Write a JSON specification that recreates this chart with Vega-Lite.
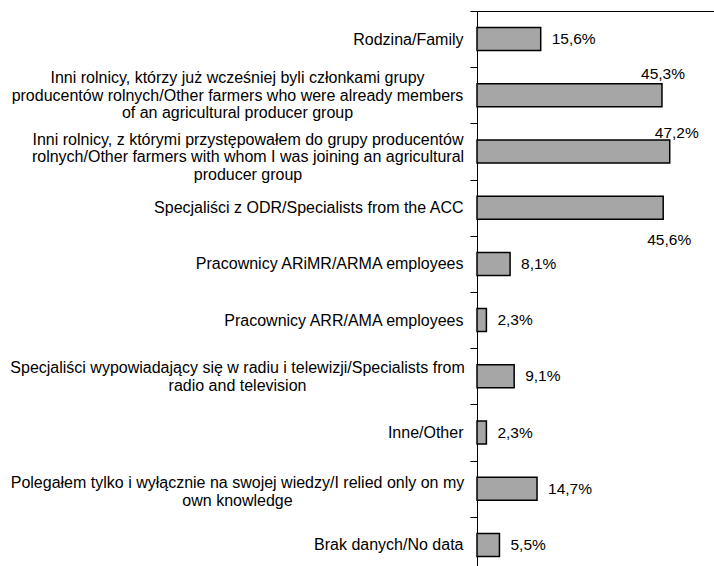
{
  "$schema": "https://vega.github.io/schema/vega-lite/v6.json",
  "width": 245,
  "height": 562,
  "autosize": {"type": "none"},
  "padding": {"left": 477, "top": 11, "right": 0, "bottom": 0},
  "background": "white",
  "config": {
    "font": "Liberation Sans",
    "view": {"stroke": "black", "strokeWidth": 1}
  },
  "data": {
    "values": [
      {"source": "Rodzina/Family", "pct": 15.6, "label": "15,6%"},
      {"source": "Inni rolnicy, którzy już wcześniej byli członkami grupy|producentów rolnych/Other farmers who were already members|of an agricultural producer group", "pct": 45.3, "label": "45,3%"},
      {"source": "Inni rolnicy, z którymi przystępowałem do grupy producentów|rolnych/Other farmers with whom I was joining an agricultural|producer group", "pct": 47.2, "label": "47,2%"},
      {"source": "Specjaliści z ODR/Specialists from the ACC", "pct": 45.6, "label": "45,6%"},
      {"source": "Pracownicy ARiMR/ARMA employees", "pct": 8.1, "label": "8,1%"},
      {"source": "Pracownicy ARR/AMA employees", "pct": 2.3, "label": "2,3%"},
      {"source": "Specjaliści wypowiadający się w radiu i telewizji/Specialists from|radio and television", "pct": 9.1, "label": "9,1%"},
      {"source": "Inne/Other", "pct": 2.3, "label": "2,3%"},
      {"source": "Polegałem tylko i wyłącznie na swojej wiedzy/I relied only on my|own knowledge", "pct": 14.7, "label": "14,7%"},
      {"source": "Brak danych/No data", "pct": 5.5, "label": "5,5%"}
    ]
  },
  "encoding": {
    "y": {
      "field": "source",
      "type": "nominal",
      "sort": null,
      "scale": {"paddingInner": 0.59, "paddingOuter": 0.295},
      "axis": {
        "title": null,
        "domainColor": "black",
        "domainWidth": 1,
        "tickColor": "black",
        "tickSize": 7,
        "tickWidth": 1,
        "tickOffset": -28.1,
        "labelOffset": {
          "condition": [
            {"test": "indexof(datum.value, 'przystępowałem') >= 0", "value": 15.6},
            {"test": "indexof(datum.value, 'członkami') >= 0", "value": 10.6},
            {"test": "indexof(datum.value, 'Polegałem') >= 0", "value": 22.3},
            {"test": "indexof(datum.value, '|') >= 0", "value": 19.6}
          ],
          "value": 28.1
        },
        "labelFontSize": 16,
        "labelColor": "black",
        "labelLimit": 1000,
        "labelLineHeight": 17.5,
        "labelBaseline": "middle",
        "labelExpr": "split(datum.label, '|')",
        "labelAlign": {"condition": {"test": "indexof(datum.value, '|') >= 0", "value": "center"}, "value": "right"},
        "labelPadding": {
          "condition": [
            {"test": "indexof(datum.value, 'przystępowałem') >= 0", "value": 222.5},
            {"test": "indexof(datum.value, '|') >= 0", "value": 233}
          ],
          "value": 7
        }
      }
    }
  },
  "layer": [
    {
      "mark": {"type": "bar", "color": "#a6a6a6", "stroke": "black", "strokeWidth": 1.5},
      "encoding": {
        "x": {"field": "pct", "type": "quantitative", "scale": {"domain": [0, 60]}, "axis": null}
      }
    },
    {
      "transform": [{"filter": "datum.pct < 40"}],
      "mark": {"type": "text", "align": "left", "baseline": "middle", "dx": 11, "fontSize": 15.5, "color": "black"},
      "encoding": {
        "x": {"field": "pct", "type": "quantitative"},
        "text": {"field": "label"}
      }
    },
    {
      "transform": [{"filter": "datum.pct == 45.3"}],
      "mark": {"type": "text", "align": "center", "baseline": "middle", "dx": 1, "dy": -21, "fontSize": 15.5, "color": "black"},
      "encoding": {
        "x": {"field": "pct", "type": "quantitative"},
        "text": {"field": "label"}
      }
    },
    {
      "transform": [{"filter": "datum.pct == 47.2"}],
      "mark": {"type": "text", "align": "center", "baseline": "middle", "dx": 7, "dy": -18.5, "fontSize": 15.5, "color": "black"},
      "encoding": {
        "x": {"field": "pct", "type": "quantitative"},
        "text": {"field": "label"}
      }
    },
    {
      "transform": [{"filter": "datum.pct == 45.6"}],
      "mark": {"type": "text", "align": "center", "baseline": "middle", "dx": 6, "dy": 32.6, "fontSize": 15.5, "color": "black"},
      "encoding": {
        "x": {"field": "pct", "type": "quantitative"},
        "text": {"field": "label"}
      }
    }
  ]
}
